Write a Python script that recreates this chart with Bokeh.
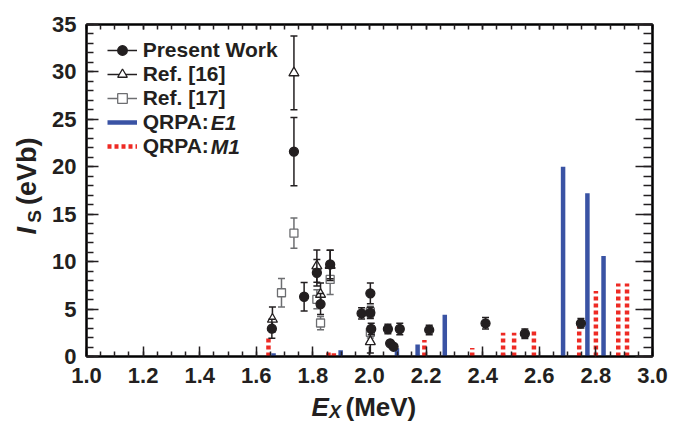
import math
from bokeh.plotting import figure
from bokeh.layouts import row, column
from bokeh.models import (Range1d, LinearAxis, SingleIntervalTicker, Legend, LegendItem,
                          Label, NumeralTickFormatter, CustomJSTickFormatter)
from bokeh.embed import file_html
from bokeh.resources import INLINE

# ---------------- data ----------------
# Present Work
pw_x = [1.655, 1.733, 1.769, 1.814, 1.827, 1.861, 1.972, 2.003, 2.003, 2.006,
        2.065, 2.073, 2.085, 2.107, 2.211, 2.410, 2.549, 2.747]
pw_y = [2.93, 21.6, 6.3, 8.83, 5.53, 9.7, 4.55, 6.66, 4.6, 2.9,
        2.9, 1.39, 1.03, 2.9, 2.8, 3.5, 2.4, 3.5]
pw_e = [1.0, 3.6, 1.5, 1.4, 1.1, 1.5, 0.6, 1.1, 0.6, 0.6,
        0.5, 0.2, 0.2, 0.6, 0.5, 0.6, 0.5, 0.5]

# Ref. [16]
r16_x = [1.657, 1.733, 1.814, 1.827, 1.861, 2.003]
r16_y = [3.92, 29.9, 9.54, 6.55, 9.6, 1.56]
r16_e = [1.3, 3.9, 1.7, 1.2, 1.6, 1.2]

# Ref. [17]
r17_x = [1.689, 1.733, 1.814, 1.827, 1.861, 2.003, 2.003]
r17_y = [6.72, 13.0, 6.03, 3.53, 8.13, 4.7, 2.55]
r17_e = [1.5, 1.6, 1.0, 0.7, 1.6, 0.6, 0.6]

# QRPA E1 strengths
e1_x = [1.661, 1.898, 2.097, 2.170, 2.266, 2.472, 2.684, 2.770, 2.827]
e1_y = [0.34, 0.65, 0.86, 1.27, 4.4, 0.3, 20.0, 17.2, 10.6]

# QRPA M1 strengths
m1_x = [1.643, 1.855, 1.874, 2.194, 2.363, 2.472, 2.511, 2.581, 2.741, 2.800, 2.879, 2.910]
m1_y = [2.2, 0.7, 0.35, 1.75, 0.9, 2.5, 2.5, 2.85, 3.2, 6.9, 7.7, 7.7]

legend_labels = ["Present Work", "Ref. [16]", "Ref. [17]", "QRPA:", "QRPA:"]
x_ticks_major = 0.2
y_ticks_major = 5

# ---------------- styles ----------------
FONT = "Liberation Sans"
BLUE = "#3A53A4"
RED = "#EE2A24"
DARK = "#231F20"
GRAY = "#6D6E71"

LEFT_W = 45       # width of the y-title strip
BOTTOM_H = 30     # height of the x-title strip
W, H = 681, 422

p = figure(width=W - LEFT_W, height=H - BOTTOM_H, output_backend="svg", toolbar_location=None,
           title=None, x_range=Range1d(1.0, 3.0), y_range=Range1d(0, 35),
           min_border_left=41, min_border_right=29, min_border_top=24, min_border_bottom=36)
p.grid.visible = False
p.outline_line_color = "black"
p.outline_line_width = 2
p.background_fill_color = "white"
p.border_fill_color = "white"

blank = CustomJSTickFormatter(code="return '';")


def style_axis(ax, major_in, minor_in, labels=True):
    ax.major_tick_in = major_in
    ax.major_tick_out = 0
    ax.minor_tick_in = minor_in
    ax.minor_tick_out = 0
    ax.major_tick_line_color = DARK
    ax.minor_tick_line_color = DARK
    ax.major_tick_line_width = 1.5
    ax.minor_tick_line_width = 1.5
    ax.axis_line_color = "black"
    ax.axis_line_width = 2
    if labels:
        ax.major_label_text_font = FONT
        ax.major_label_text_font_style = "bold"
        ax.major_label_text_font_size = "22px"
        ax.major_label_text_color = DARK
    else:
        ax.formatter = blank
        ax.major_label_standoff = 0


xa = p.xaxis[0]
xa.ticker = SingleIntervalTicker(interval=x_ticks_major, num_minor_ticks=4)
xa.formatter = NumeralTickFormatter(format="0.0")
style_axis(xa, 10, 5)
xa.major_label_standoff = 11

ya = p.yaxis[0]
ya.ticker = SingleIntervalTicker(interval=y_ticks_major, num_minor_ticks=5)
style_axis(ya, 12, 7)
ya.major_label_standoff = 10

top = LinearAxis(ticker=SingleIntervalTicker(interval=x_ticks_major, num_minor_ticks=4))
style_axis(top, 5, 5, labels=False)
p.add_layout(top, "above")
right = LinearAxis(ticker=SingleIntervalTicker(interval=y_ticks_major, num_minor_ticks=5))
style_axis(right, 17, 9, labels=False)
p.add_layout(right, "right")

# ---------------- QRPA bars ----------------
e1_r = p.segment(x0=e1_x, y0=[0] * len(e1_x), x1=e1_x, y1=e1_y, line_color=BLUE,
                 line_width=4.5, line_cap="butt")
m1_r = p.segment(x0=m1_x, y0=[0] * len(m1_x), x1=m1_x, y1=m1_y, line_color=RED,
                 line_width=4.5, line_dash="4 3", line_cap="butt")


def errbars(xs, ys, es, color, marker, size, fill):
    lo = [y - e for y, e in zip(ys, es)]
    hi = [y + e for y, e in zip(ys, es)]
    seg = p.segment(x0=xs, y0=lo, x1=xs, y1=hi, line_color=color, line_width=1.5)
    p.scatter(x=xs + xs, y=lo + hi, marker="dash", size=7, line_color=color, line_width=1.5)
    mk = p.scatter(x=xs, y=ys, marker=marker, size=size, line_color=color,
                   fill_color=fill, line_width=1.3)
    return seg, mk


r17_seg, r17_mk = errbars(r17_x, r17_y, r17_e, GRAY, "square", 8, "white")
r16_seg, r16_mk = errbars(r16_x, r16_y, r16_e, DARK, "triangle", 10, "white")
pw_seg, pw_mk = errbars(pw_x, pw_y, pw_e, DARK, "circle", 9, DARK)

# ---------------- legend ----------------
PITCH = 24
legend = Legend(items=[
    LegendItem(label=legend_labels[0], renderers=[pw_seg, pw_mk]),
    LegendItem(label=legend_labels[1], renderers=[r16_seg, r16_mk]),
    LegendItem(label=legend_labels[2], renderers=[r17_seg, r17_mk]),
    LegendItem(label=legend_labels[3], renderers=[e1_r]),
    LegendItem(label=legend_labels[4], renderers=[m1_r]),
], location=(20.7, 198))
legend.padding = 0
legend.margin = 0
legend.spacing = 0
legend.border_line_color = None
legend.background_fill_alpha = 0
legend.glyph_width = 30
legend.glyph_height = PITCH
legend.label_height = PITCH
legend.label_standoff = 6
legend.label_text_font = FONT
legend.label_text_font_style = "bold"
legend.label_text_font_size = "21px"
legend.label_text_color = DARK
p.add_layout(legend, "center")

# italic parts of the QRPA legend entries (frame-relative screen units)
qrpa_w = 3.222 * 21
leg_text_x = 20.7 + 30 + 6
for lab_txt, r in (("E1", 3), ("M1", 4)):
    p.add_layout(Label(x=leg_text_x + qrpa_w, y=306 - PITCH * r,
                       x_units="screen", y_units="screen", text=lab_txt,
                       text_font=FONT, text_font_style="bold italic",
                       text_font_size="21px", text_color=DARK, text_baseline="middle"))

# ---------------- axis-title strips ----------------
MID = 0.3465   # distance baseline -> text middle, in em


def strip(w, h):
    f = figure(width=w, height=h, output_backend="svg", toolbar_location=None, title=None,
               x_range=Range1d(0, w), y_range=Range1d(0, h), x_axis_type=None,
               y_axis_type=None, min_border=0)
    f.outline_line_color = None
    f.grid.visible = False
    f.background_fill_color = "white"
    f.border_fill_color = "white"
    return f


def lab(f, x, y, text, size, style, angle=0.0):
    f.add_layout(Label(x=x, y=y, text=text, angle=angle, text_font=FONT,
                       text_font_style=style, text_font_size=f"{size}px",
                       text_color=DARK, text_baseline="middle", text_align="left"))


# y title: I_S (eVb), rotated, reading bottom-to-top (strip data y = strip height - page y)
T, S = 27, 19
SH = H - BOTTOM_H
ly = strip(LEFT_W, SH)
lab(ly, 36 - MID * T, SH - 248, "I", T, "bold italic", math.pi / 2)
lab(ly, 41 - MID * S, SH - 234, "S", S, "bold", math.pi / 2)
lab(ly, 36 - MID * T, SH - 213, "(eVb)", T, "bold", math.pi / 2)

# x title: E_X (MeV)  (strip data y = 422 - page y)
TX, SX = 26, 18
bx = strip(W, BOTTOM_H)
lab(bx, 311, H - (415.5 - MID * TX), "E", TX, "bold italic")
lab(bx, 328.5, H - (417.5 - MID * SX), "X", SX, "bold italic")
lab(bx, 345, H - (415.5 - MID * TX), "(MeV)", TX, "bold")

layout = column(row(ly, p), bx)
open("out.html", "w").write(file_html(layout, INLINE))
